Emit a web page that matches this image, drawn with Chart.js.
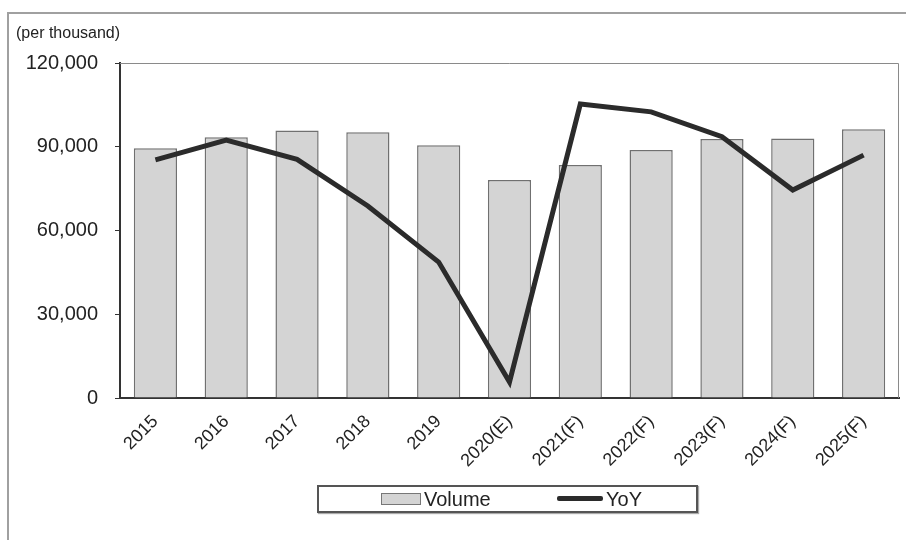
<!DOCTYPE html>
<html>
<head>
<meta charset="utf-8">
<script src="https://cdn.jsdelivr.net/npm/chart.js@4.4.1/dist/chart.umd.min.js"></script>
<style>
  body { margin: 0; background: #fff; font-family: "Liberation Sans", Arial, sans-serif; }
  #wrap { position: relative; width: 906px; height: 540px; }
  #frame { position: absolute; left: 7px; top: 12px; right: -5px; bottom: -5px;
           border-top: 2px solid #a0a0a0; border-left: 2px solid #a0a0a0; }
  #unit { position: absolute; left: 16px; top: 24px; font-size: 16px; color: #222; }
  #legend { position: absolute; left: 317px; top: 485px; width: 377px; height: 24px;
            border: 2px solid #555; box-shadow: 1px 1px 1px #aaa; font-size: 20px; color: #222; }
  #legend .sw { position: absolute; left: 62px; top: 6px; width: 38px; height: 10px;
                background: #d4d4d4; border: 1px solid #777; }
  #legend .ln { position: absolute; left: 238px; top: 9px; width: 46px; height: 5px;
                background: #2b2b2b; border-radius: 2px; }
  #legend span { position: absolute; top: 0px; line-height: 24px; }
  canvas { position: absolute; left: 0; top: 0; }
</style>
</head>
<body>
<div id="wrap">
  <div id="frame"></div>
  <canvas id="chart" width="906" height="540"></canvas>
  <div id="unit">(per thousand)</div>
  <div id="legend">
    <div class="sw"></div><span style="left:105px">Volume</span>
    <div class="ln"></div><span style="left:287px">YoY</span>
  </div>
</div>
<script>
const categories = ['2015', '2016', '2017', '2018', '2019', '2020(E)', '2021(F)', '2022(F)', '2023(F)', '2024(F)', '2025(F)'];
const volume = [89500, 93400, 95800, 95200, 90500, 78100, 83500, 88800, 92800, 93000, 96300];
const yoy = [85300, 92400, 85500, 68800, 48700, 5700, 105300, 102500, 93600, 74500, 87000];
const yTicks = [0, 30000, 60000, 90000, 120000];

// thin grey box on the top and right side of the plot area
const plotBox = {
    id: 'plotBox',
    beforeDatasetsDraw(chart) {
        const a = chart.chartArea;
        const ctx = chart.ctx;
        ctx.save();
        ctx.strokeStyle = '#8a8a8a';
        ctx.lineWidth = 1;
        ctx.beginPath();
        ctx.moveTo(a.left, a.top + 0.5);
        ctx.lineTo(a.right - 0.5, a.top + 0.5);
        ctx.lineTo(a.right - 0.5, a.bottom);
        ctx.stroke();
        ctx.restore();
    }
};

new Chart(document.getElementById('chart').getContext('2d'), {
    type: 'bar',
    data: {
        labels: categories,
        datasets: [{
            type: 'line',
            label: 'YoY',
            data: yoy,
            borderColor: '#2b2b2b',
            borderWidth: 5,
            pointRadius: 0,
            tension: 0,
            order: 0
        }, {
            label: 'Volume',
            data: volume,
            backgroundColor: '#d4d4d4',
            borderColor: '#707070',
            borderWidth: 1.5,
            categoryPercentage: 1,
            barPercentage: 0.61,
            order: 1
        }]
    },
    options: {
        responsive: false,
        animation: false,
        layout: { padding: { left: 0, top: 63, right: 7, bottom: 0 } },
        plugins: { legend: { display: false }, tooltip: { enabled: false } },
        scales: {
            x: {
                afterFit: s => { s.height = 142; },
                grid: { display: false, drawTicks: false },
                border: { color: '#333', width: 2 },
                ticks: {
                    minRotation: 45, maxRotation: 45, padding: 13,
                    color: '#222', font: { family: 'Liberation Sans', size: 18 }
                }
            },
            y: {
                min: 0, max: 120000,
                afterFit: s => { s.width = 120; },
                afterBuildTicks: s => { s.ticks = yTicks.map(v => ({ value: v })); },
                grid: { drawOnChartArea: false, tickLength: 5, color: '#333' },
                border: { color: '#333', width: 2 },
                ticks: {
                    padding: 17, color: '#222',
                    font: { family: 'Liberation Sans', size: 20 },
                    callback: v => v.toLocaleString('en-US')
                }
            }
        }
    },
    plugins: [plotBox]
});
</script>
</body>
</html>
